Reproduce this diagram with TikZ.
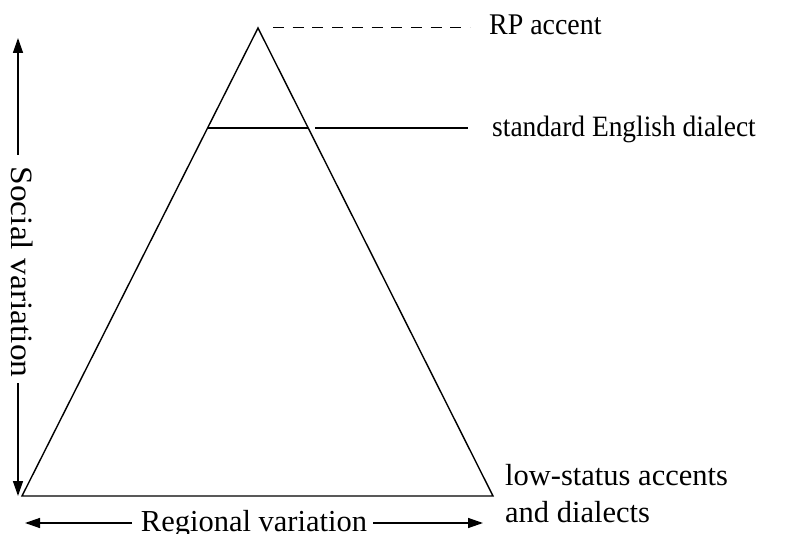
\documentclass[tikz,border=0pt]{standalone}
\usepackage{fontspec}
\setmainfont{Liberation Serif}
\newfontfamily\narrowfam{Liberation Serif}[FakeStretch=0.93]
\newfontfamily\widefam{Liberation Serif}[FakeStretch=1.08]
\usetikzlibrary{arrows.meta,calc}
\begin{document}
\begin{tikzpicture}[x=1pt,y=-1pt,
  lbl/.style={inner sep=0pt,font=\fontsize{30.5}{36}\selectfont},
  ln/.style={line width=1.4pt},
  arr/.style={line width=1.4pt,-{Triangle[length=15pt,width=10pt]}}]
\useasboundingbox (0,0) rectangle (808,534);
% triangle
\coordinate (apex) at (258,28);
\coordinate (bl) at (22,496);
\coordinate (br) at (493,496);
\draw[ln,line join=miter] (apex) -- (bl) -- (br) -- cycle;
% standard line inside triangle
\coordinate (sl) at ($(apex)!0.2137!(bl)$);
\coordinate (sr) at ($(apex)!0.2137!(br)$);
\draw[ln] (sl) -- (sr);
% labels
\node[lbl,anchor=base west,font=\narrowfam\fontsize{30}{36}\selectfont] (rp) at (489,35) {RP accent};
\node[lbl,anchor=base west,font=\narrowfam\fontsize{29.5}{36}\selectfont] (std) at (492,137) {standard English dialect};
\node[lbl,anchor=base west] (low1) at (505,485) {low-status accents};
\node[lbl,anchor=base west] (low2) at (505,522) {and dialects};
\node[lbl,anchor=base] (reg) at (254,531) {Regional variation};
\node[lbl,anchor=base,rotate=-90,font=\widefam\fontsize{31}{36}\selectfont] (soc) at (12,272) {Social variation};
% connectors
\coordinate (d1) at (273,28);
\coordinate (d2) at (470,28);
\draw[line width=1pt,dash pattern=on 11pt off 8.7pt] (d1) -- (d2);
\coordinate (s1) at (315,128);
\coordinate (s2) at (468,128);
\draw[ln] (s1) -- (s2);
% social arrow
\coordinate (sTop) at (18,38);
\coordinate (sBot) at (18,496);
\coordinate (sA) at (18,155);
\coordinate (sB) at (18,383);
\draw[arr] (sA) -- (sTop);
\draw[arr] (sB) -- (sBot);
% regional arrow
\coordinate (rL) at (25,523);
\coordinate (rR) at (483,523);
\coordinate (rA) at (132,523);
\coordinate (rB) at (373,523);
\draw[arr] (rA) -- (rL);
\draw[arr] (rB) -- (rR);
\end{tikzpicture}
\end{document}
